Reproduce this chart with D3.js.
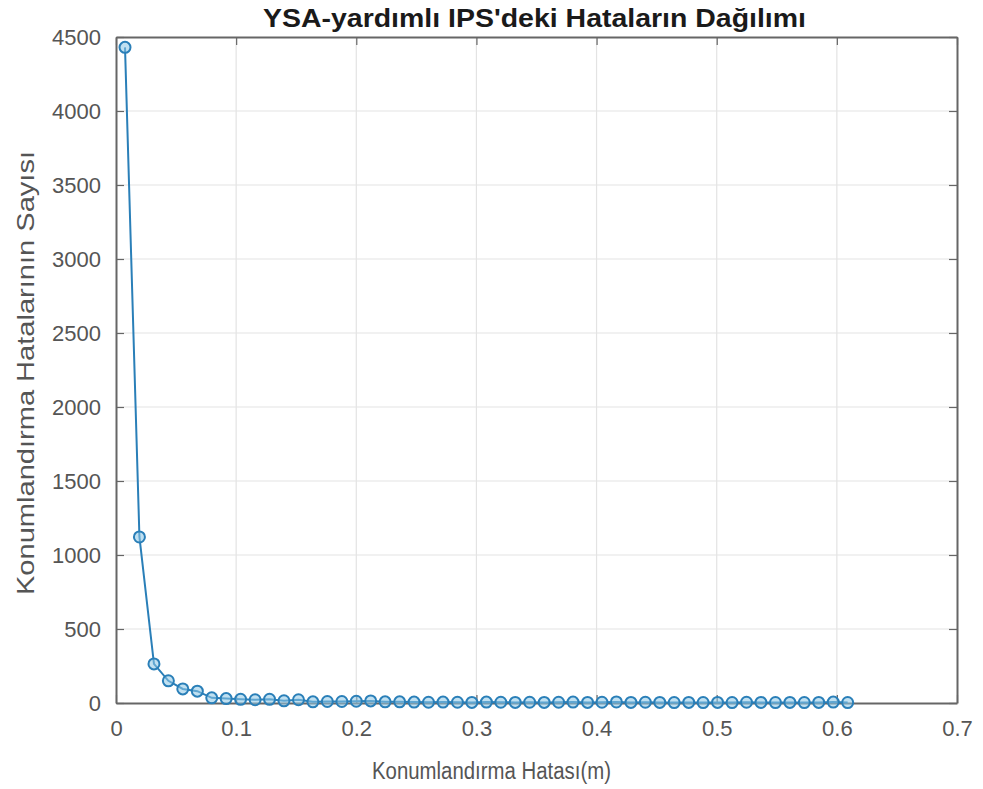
<!DOCTYPE html>
<html><head><meta charset="utf-8">
<script src="https://cdn.jsdelivr.net/npm/d3@7"></script>
<style>body{margin:0;background:#fff;} text{font-family:"Liberation Sans",Arial,sans-serif;}</style>
</head><body><svg id="c" width="983" height="789"></svg>
<script>
const titleText = "YSA-yardımlı IPS'deki Hataların Dağılımı";
const xLabel = "Konumlandırma Hatası(m)";
const yLabel = "Konumlandırma Hatalarının Sayısı";
const xTicks = [0, 0.1, 0.2, 0.3, 0.4, 0.5, 0.6, 0.7];
const yTicks = [0, 500, 1000, 1500, 2000, 2500, 3000, 3500, 4000, 4500];
const errorX = [0.0075, 0.0195, 0.0316, 0.0436, 0.0556, 0.0677, 0.0797, 0.0917, 0.1037, 0.1158,
  0.1278, 0.1398, 0.1519, 0.1639, 0.1759, 0.1880, 0.2000, 0.2120, 0.2240, 0.2361,
  0.2481, 0.2601, 0.2722, 0.2842, 0.2962, 0.3083, 0.3203, 0.3323, 0.3443, 0.3564,
  0.3684, 0.3804, 0.3925, 0.4045, 0.4165, 0.4286, 0.4406, 0.4526, 0.4646, 0.4767,
  0.4887, 0.5007, 0.5128, 0.5248, 0.5368, 0.5489, 0.5609, 0.5729, 0.5849, 0.5970, 0.6090];
const errorCount = [4430, 1122, 264, 150, 95, 80, 35, 30, 25, 22,
  25, 15, 22, 8, 10, 10, 12, 14, 8, 8,
  6, 5, 6, 5, 4, 6, 5, 4, 5, 4,
  5, 6, 4, 5, 7, 4, 5, 4, 3, 4,
  3, 4, 3, 5, 4, 3, 4, 3, 4, 6, 3];

const W = 983, H = 789;
const m = {l:116, r:26, t:37, b:86};
const svg = d3.select("#c");
const x = d3.scaleLinear().domain([0, 0.7]).range([m.l, W - m.r]);
const y = d3.scaleLinear().domain([0, 4500]).range([H - m.b, m.t]);
const tc = "#555", gc = "#e3e3e3", ac = "#666";

// grid
svg.append("g").selectAll("line").data(xTicks.slice(1, -1)).join("line")
  .attr("x1", d => x(d)).attr("x2", d => x(d)).attr("y1", m.t).attr("y2", H - m.b)
  .attr("stroke", gc).attr("stroke-width", 1.2);
svg.append("g").selectAll("line").data(yTicks.slice(1, -1)).join("line")
  .attr("y1", d => y(d)).attr("y2", d => y(d)).attr("x1", m.l).attr("x2", W - m.r)
  .attr("stroke", gc).attr("stroke-width", 1.2);

// axes
const fmtX = d => d === 0 ? "0" : d3.format(".1f")(d);
const xb = svg.append("g").attr("transform", `translate(0,${H - m.b})`)
  .call(d3.axisBottom(x).tickValues(xTicks).tickFormat(fmtX).tickSizeInner(-8).tickSizeOuter(0).tickPadding(17));
const xt = svg.append("g").attr("transform", `translate(0,${m.t})`)
  .call(d3.axisTop(x).tickValues(xTicks).tickFormat("").tickSizeInner(-8).tickSizeOuter(0));
const yl = svg.append("g").attr("transform", `translate(${m.l},0)`)
  .call(d3.axisLeft(y).tickValues(yTicks).tickFormat(d3.format("d")).tickSizeInner(-8).tickSizeOuter(0).tickPadding(15));
const yr = svg.append("g").attr("transform", `translate(${W - m.r},0)`)
  .call(d3.axisRight(y).tickValues(yTicks).tickFormat("").tickSizeInner(-8).tickSizeOuter(0));
[xb, xt, yl, yr].forEach(g => {
  g.select(".domain").attr("stroke", ac).attr("stroke-width", 2);
  g.selectAll(".tick line").attr("stroke", ac).attr("stroke-width", 1.2);
  g.selectAll(".tick text").attr("fill", tc).style("font-size", "22px");
});

// line
svg.append("path").datum(errorX.map((d, i) => [d, errorCount[i]]))
  .attr("d", d3.line().x(d => x(d[0])).y(d => y(d[1])))
  .attr("fill", "none").attr("stroke", "#2a7fb8").attr("stroke-width", 2);
svg.append("g").selectAll("circle").data(errorX.map((d, i) => [d, errorCount[i]])).join("circle")
  .attr("cx", d => x(d[0])).attr("cy", d => y(d[1])).attr("r", 5.5)
  .attr("fill", "#8cc6e6").attr("fill-opacity", 0.55).attr("stroke", "#2a7fb8").attr("stroke-width", 2);

// labels
svg.append("text").attr("x", 534.5).attr("y", 27).attr("text-anchor", "middle")
  .attr("fill", "#1a1a1a").style("font-size", "26px").style("font-weight", "bold")
  .attr("textLength", 543).attr("lengthAdjust", "spacingAndGlyphs").text(titleText);
svg.append("text").attr("x", 491.5).attr("y", 779).attr("text-anchor", "middle")
  .attr("fill", tc).style("font-size", "23px")
  .attr("textLength", 239).attr("lengthAdjust", "spacingAndGlyphs").text(xLabel);
svg.append("text").attr("transform", `translate(34,373) rotate(-90)`).attr("text-anchor", "middle")
  .attr("fill", tc).style("font-size", "24px")
  .attr("textLength", 444).attr("lengthAdjust", "spacingAndGlyphs").text(yLabel);
</script></body></html>
